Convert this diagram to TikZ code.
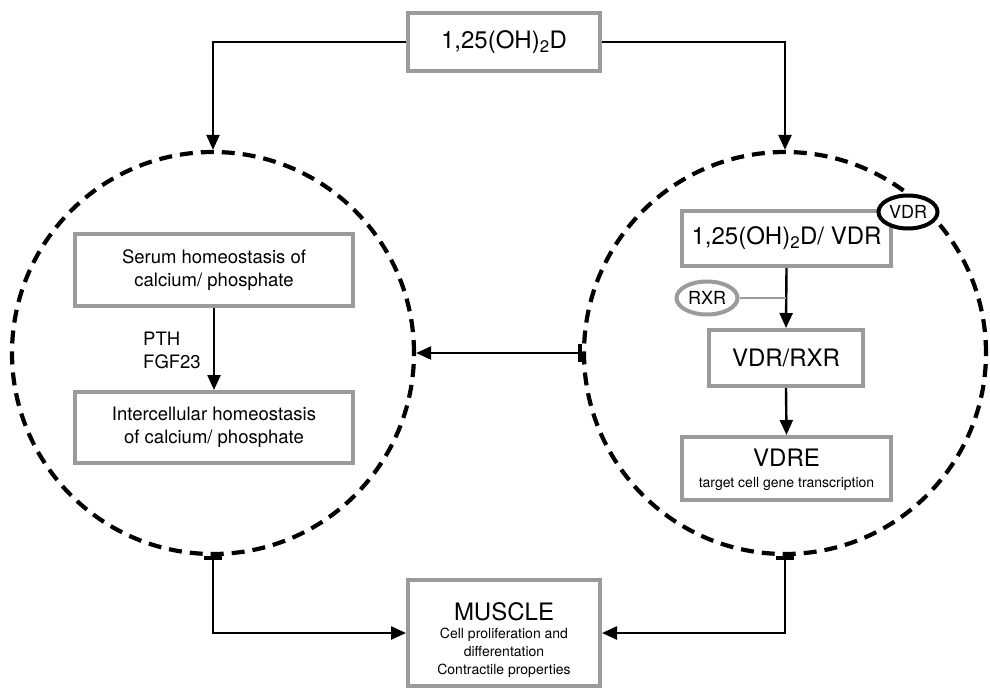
\documentclass[tikz,border=0pt]{standalone}
\usepackage{fontspec}
\setmainfont{TeX Gyre Heros}
\usetikzlibrary{arrows.meta,shapes.geometric}
\definecolor{boxgray}{RGB}{155,155,155}
\tikzset{
  gbox/.style={draw=boxgray, line width=4pt, fill=white, inner sep=2pt, align=center},
  bigtxt/.style={font=\fontsize{24}{29}\selectfont},
  midtxt/.style={font=\fontsize{18.5}{23}\selectfont},
  smalltxt/.style={font=\fontsize{14}{18}\selectfont},
  zone/.style={circle, draw=black, line width=4.2pt, dash pattern=on 13pt off 8pt, minimum size=402pt, inner sep=0pt},
  conn/.style={draw=black, line width=2.4pt, -{Triangle[length=15pt,width=13pt]}},
  barconn/.style={draw=black, line width=2.4pt, {Bar[width=18pt,line width=4pt]}-{Triangle[length=15pt,width=13pt]}},
}
\begin{document}
\begin{tikzpicture}[x=1pt,y=-1pt]
\useasboundingbox (0,0) rectangle (990,690);
% zones
\node[zone] (L) at (213,353) {};
\node[zone] (R) at (785,353) {};
% top box
\node[gbox, bigtxt, minimum width=192pt, minimum height=58pt] (top) at (504,42) {1,25(OH)\textsubscript{2}D};
% muscle
\node[gbox, minimum width=192pt, minimum height=106pt] (M) at (504,633) {};
\node[bigtxt] (Mt) at (504,612) {MUSCLE};
\node[smalltxt, align=center] (Ms) at (504,653) {Cell proliferation and\\differentation\\Contractile properties};
% left zone boxes
\node[gbox, midtxt, minimum width=278pt, minimum height=72pt] (serum) at (214,270) {Serum homeostasis of\\calcium/ phosphate};
\node[gbox, midtxt, minimum width=278pt, minimum height=71pt] (intra) at (214,427.5) {Intercellular homeostasis\\of calcium/ phosphate};
\node[midtxt, align=left, anchor=west, inner sep=0pt] (lab) at (143,350) {PTH\\FGF23};
% right zone boxes
\node[gbox, bigtxt, minimum width=209pt, minimum height=55pt] (cv) at (786.5,238.5) {1,25(OH)\textsubscript{2}D/ VDR};
\node[gbox, bigtxt, minimum width=154pt, minimum height=56pt] (vr) at (786,358) {VDR/RXR};
\node[gbox, minimum width=209pt, minimum height=63pt, inner sep=0pt] (vdre) at (786.5,468.5) {};
\node[bigtxt] (vdret) at (786.5,458) {VDRE};
\node[smalltxt] (vdres) at (786.5,484) {target cell gene transcription};
% ellipses
\node[ellipse, draw=black, line width=4pt, fill=white, minimum width=59pt, minimum height=33pt, inner sep=0pt, font=\fontsize{18}{20}\selectfont] (vdr) at (908,212) {VDR};
\node[ellipse, draw=boxgray, line width=4pt, fill=white, minimum width=61pt, minimum height=33pt, inner sep=0pt, font=\fontsize{18}{20}\selectfont] (rxr) at (707,298) {RXR};
\coordinate (rj) at (786,298);
% connectors
\draw[conn] (top.west) -| (L.north);
\draw[conn] (top.east) -| (R.north);
\draw[conn] (serum.south) -- (intra.north);
\draw[conn] (cv.south) -- (vr.north);
\draw[draw=boxgray, line width=2pt] (rxr.east) -- (rj);
\draw[conn] (vr.south) -- (vdre.north);
\draw[barconn] (R.west) -- (L.east);
\draw[barconn] (L.south) |- (M.west);
\draw[barconn] (R.south) |- (M.east);
\end{tikzpicture}
\end{document}
